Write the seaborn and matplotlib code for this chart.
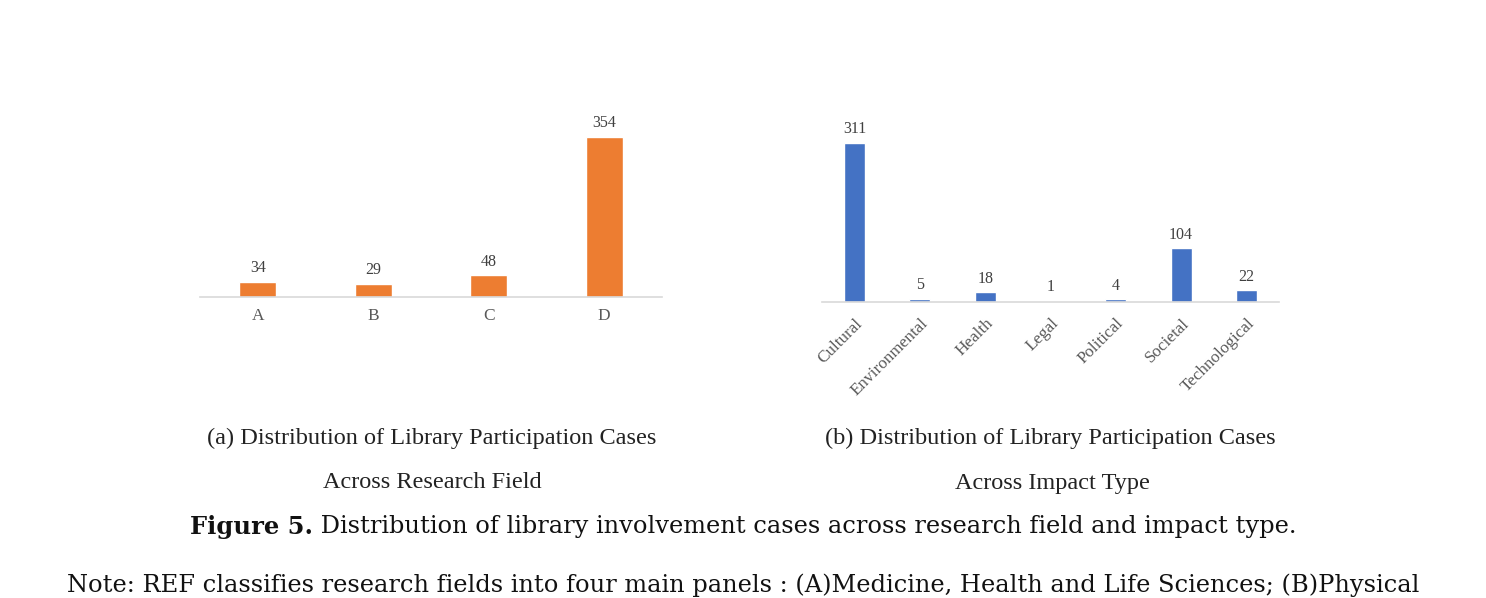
import matplotlib
matplotlib.use("Agg")
import matplotlib.pyplot as plt
import seaborn as sns

# data
fields = ["A", "B", "C", "D"]
field_counts = [34, 29, 48, 354]
impact_types = ["Cultural", "Environmental", "Health", "Legal", "Political", "Societal", "Technological"]
impact_counts = [311, 5, 18, 1, 4, 104, 22]

caption_a = ["(a) Distribution of Library Participation Cases", "Across Research Field"]
caption_b = ["(b) Distribution of Library Participation Cases", "Across Impact Type"]
fig_label = "Figure 5."
fig_text = " Distribution of library involvement cases across research field and impact type."
note_text = ("Note: REF classifies research fields into four main panels : (A)Medicine, "
             "Health and Life Sciences; (B)Physical")

sns.set_style("white")
plt.rcParams['font.family'] = ['Liberation Serif', 'DejaVu Serif']

W, H = 1486, 598
fig = plt.figure(figsize=(W / 100, H / 100), dpi=100)

label_col = "#404040"
tick_col = "#595959"
axis_col = "#d9d9d9"


def style_axes(ax, n):
    for s in ["top", "right", "left"]:
        ax.spines[s].set_visible(False)
    ax.spines["bottom"].set_color(axis_col)
    ax.spines["bottom"].set_linewidth(1.2)
    ax.set_yticks([])
    ax.set_xlim(-0.5, n - 0.5)
    # Excel-style separators between categories
    ax.set_xticks([i - 0.5 for i in range(n + 1)], minor=True)
    ax.tick_params(axis="x", which="minor", length=5, color=axis_col, width=1.2)
    ax.tick_params(axis="x", which="major", length=0)
    ax.set_xlabel("")
    ax.set_ylabel("")


# (a) research field
ax1 = fig.add_axes([200 / W, 1 - 297 / H, 462 / W, 400 * 0.452 / H])
sns.barplot(x=fields, y=field_counts, color="#ED7D31", width=0.32, saturation=1, ax=ax1)
ax1.set_ylim(0, 400)
style_axes(ax1, len(fields))
ax1.bar_label(ax1.containers[0], padding=4, fontsize=11.5, color=label_col)
ax1.tick_params(axis="x", which="major", labelsize=12.5, labelcolor=tick_col, pad=8)

# (b) impact type
ax2 = fig.add_axes([822 / W, 1 - 301.5 / H, 457 / W, 350 * 0.51 / H])
sns.barplot(x=impact_types, y=impact_counts, color="#4472C4", width=0.32, saturation=1, ax=ax2)
ax2.set_ylim(0, 350)
style_axes(ax2, len(impact_types))
ax2.bar_label(ax2.containers[0], padding=4, fontsize=11.5, color=label_col)
ax2.tick_params(axis="x", which="major", labelsize=12.3, labelcolor=tick_col, pad=10)
for lab in ax2.get_xticklabels():
    lab.set_rotation(45)
    lab.set_ha("right")
    lab.set_rotation_mode("anchor")

# sub-captions
cap_kw = dict(fontsize=17.5, color="#222222", ha="center", va="center")
fig.text(432 / W, 1 - 438 / H, caption_a[0], **cap_kw)
fig.text(432 / W, 1 - 483 / H, caption_a[1], **cap_kw)
fig.text(1050 / W, 1 - 438 / H, caption_b[0], **cap_kw)
fig.text(1052 / W, 1 - 483 / H, caption_b[1], **cap_kw)

# figure caption (bold label + regular text), centred as a whole
fig.canvas.draw()
r = fig.canvas.get_renderer()
cap_font = dict(fontsize=17.4, color="#111111", va="center", family=["DejaVu Serif"])
t1 = fig.text(0, 1 - 527 / H, fig_label, fontweight="bold", **cap_font)
t2 = fig.text(0, 1 - 527 / H, fig_text, **cap_font)
w1 = t1.get_window_extent(r).width
w2 = t2.get_window_extent(r).width
x0 = 743 - (w1 + w2) / 2
t1.set_x(x0 / W)
t2.set_x((x0 + w1) / W)

fig.text(743 / W, 1 / H, note_text, ha="center", va="bottom",
         fontsize=17.4, color="#111111", family=["DejaVu Serif"])

fig.savefig("out.png", dpi=100)
